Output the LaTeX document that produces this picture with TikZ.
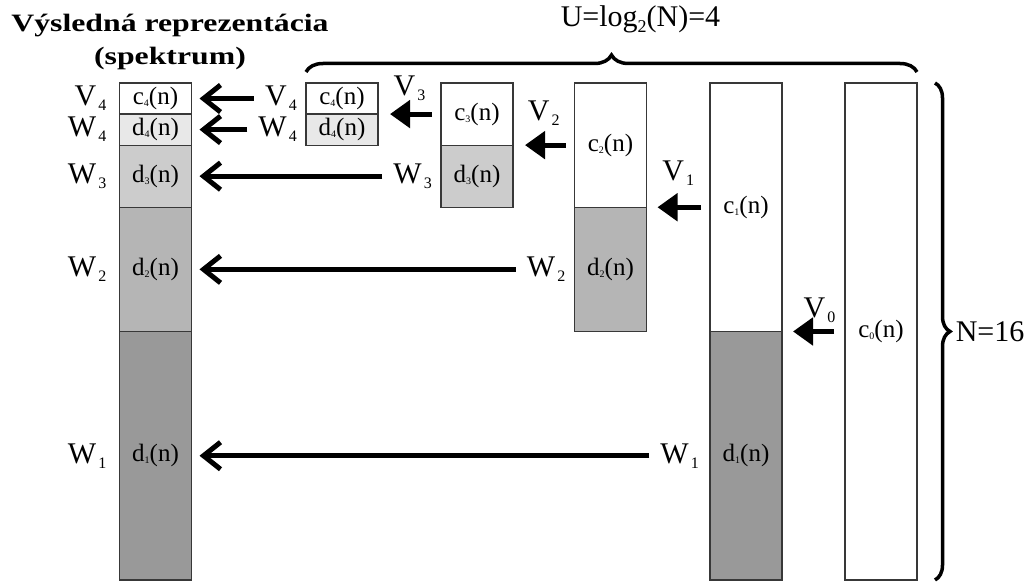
\documentclass[tikz,border=0pt]{standalone}
\usepackage{fontspec}
\setmainfont{Liberation Serif}
\usepackage{graphicx}
\usetikzlibrary{positioning}
\usetikzlibrary{arrows.meta}
\usetikzlibrary{decorations.pathreplacing}

\definecolor{dlev4}{gray}{0.91}
\definecolor{dlev3}{gray}{0.80}
\definecolor{dlev2}{gray}{0.71}
\definecolor{dlev1}{gray}{0.60}
\definecolor{edge}{gray}{0.22}

\newcommand*{\csub}[1]{\raisebox{-2pt}{\fontsize{10}{10}\selectfont #1}}
\newcommand*{\lsub}[1]{\kern2pt\raisebox{-5pt}{\fontsize{16}{16}\selectfont #1}}

\tikzset{
    cell/.style = {draw = edge, line width = 1.2pt, minimum width = 72pt,
        inner sep = 0pt, outer sep = 0pt, anchor = north,
        font = \fontsize{25}{28}\selectfont},
    h/.style = {minimum height = #1*31.06pt},
    lbl/.style = {inner sep = 1pt, font = \fontsize{30}{32}\selectfont},
    barb/.style = {line width = 5pt, -{Straight Barb[length=17pt, width=27pt]}},
    tri/.style = {line width = 5pt, -{Triangle[length=20pt, width=27pt]}},
    curly/.style = {decorate, line width = 3.5pt,
        decoration = {brace, amplitude = #1}},
}

\begin{document}
\begin{tikzpicture}[x = 1pt, y = -1pt]
    \useasboundingbox (0,0) rectangle (1033,583);

    %\draw[help lines, opacity = 0.1] (0,0) grid[step=50] (1033,583);

    % vysledne spektrum
    \node[cell, h=1] (fc4) at (155.5,83) {c\csub{4}(n)};
    \node[cell, h=1, fill = dlev4, below=0pt of fc4] (fd4) {d\csub{4}(n)};
    \node[cell, h=2, fill = dlev3, below=0pt of fd4] (fd3) {d\csub{3}(n)};
    \node[cell, h=4, fill = dlev2, below=0pt of fd3] (fd2) {d\csub{2}(n)};
    \node[cell, h=8, fill = dlev1, below=0pt of fd2] (fd1) {d\csub{1}(n)};

    \node (title) at (170,42) [align = center, font = \bfseries\fontsize{25}{33}\selectfont]
        {\scalebox{1.27}[1]{Výsledná reprezentácia}\\\scalebox{1.27}[1]{(spektrum)}};

    % urovne rozkladu
    \node[cell, h=1] (c4) at (342,83) {c\csub{4}(n)};
    \node[cell, h=1, fill = dlev4, below=0pt of c4] (d4) {d\csub{4}(n)};

    \node[cell, h=2] (c3) at (477,83) {c\csub{3}(n)};
    \node[cell, h=2, fill = dlev3, below=0pt of c3] (d3) {d\csub{3}(n)};

    \node[cell, h=4] (c2) at (610.5,83) {c\csub{2}(n)};
    \node[cell, h=4, fill = dlev2, below=0pt of c2] (d2) {d\csub{2}(n)};

    \node[cell, h=8] (c1) at (746,83) {c\csub{1}(n)};
    \node[cell, h=8, fill = dlev1, below=0pt of c1] (d1) {d\csub{1}(n)};

    \node[cell, h=16] (c0) at (881,83) {c\csub{0}(n)};

    % popisy
    \node[lbl, left=12pt of fc4] (lV4) {V\lsub{4}};
    \node[lbl, left=12pt of fd4] (lW4) {W\lsub{4}};
    \node[lbl, left=12pt of fd3] (lW3) {W\lsub{3}};
    \node[lbl, left=12pt of fd2] (lW2) {W\lsub{2}};
    \node[lbl, left=12pt of fd1] (lW1) {W\lsub{1}};

    \node[lbl, left=8pt of c4] (sV4) {V\lsub{4}};
    \node[lbl, left=8pt of d4] (sW4) {W\lsub{4}};
    \node[lbl, left=8pt of d3] (sW3) {W\lsub{3}};
    \node[lbl, left=8pt of d2] (sW2) {W\lsub{2}};
    \node[lbl, left=10pt of d1] (sW1) {W\lsub{1}};

    % sipky
    \draw[barb, shorten <=10pt, shorten >=8pt] (sV4) -- (fc4);
    \foreach \src/\dst in {sW4/fd4, sW3/fd3, sW2/fd2, sW1/fd1}
        \draw[barb, shorten <=10pt, shorten >=8pt] (\src) -- (\dst);

    \draw[tri, shorten <=9pt, shorten >=12pt] (c3) -- (c4.south east)
        node[lbl, midway, above=10pt] {V\lsub{3}};
    \draw[tri, shorten <=9pt, shorten >=12pt] (c2) -- (d3.north east)
        node[lbl, midway, above=16pt] {V\lsub{2}};
    \draw[tri, shorten <=9pt, shorten >=11pt] (c1) -- (d2.north east)
        node[lbl, midway, above=18pt] {V\lsub{1}};
    \draw[tri, shorten <=11pt, shorten >=11pt] (c0) -- (d1.north east)
        node[lbl, midway, above=5pt, xshift=6pt] {V\lsub{0}};

    % zatvorky
    \draw[curly=17pt] ([yshift=11pt]c4.north west) -- ([yshift=11pt]c0.north east)
        node[midway, above=36pt, xshift=29pt, inner sep=1pt, font=\fontsize{30}{32}\selectfont]
        {U=log\raisebox{-6pt}{\fontsize{18}{18}\selectfont 2}(N)=4};
    \draw[curly=15pt] ([xshift=18pt]c0.north east) -- ([xshift=18pt]c0.south east)
        node[midway, right=18pt, inner sep=1pt, font=\fontsize{30}{32}\selectfont] {N=16};
\end{tikzpicture}
\end{document}
